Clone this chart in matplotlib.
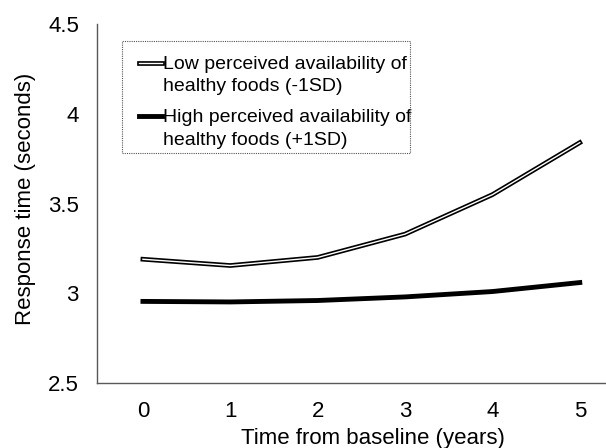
import matplotlib
matplotlib.use("Agg")
import matplotlib.pyplot as plt
import matplotlib.patheffects as pe
import numpy as np
from matplotlib.legend_handler import HandlerLine2D
from matplotlib.patches import Rectangle

years = [0, 1, 2, 3, 4, 5]
low_avail = [3.19, 3.155, 3.20, 3.33, 3.55, 3.84]
high_avail = [2.955, 2.952, 2.96, 2.98, 3.01, 3.06]
y_ticks = [2.5, 3, 3.5, 4, 4.5]
y_tick_labels = ["2.5", "3", "3.5", "4", "4.5"]
label_low = "Low perceived availability of\nhealthy foods (-1SD)"
label_high = "High perceived availability of\nhealthy foods (+1SD)"

plt.rcParams['font.family'] = ['Liberation Sans', 'DejaVu Sans']


class TopHandler(HandlerLine2D):
    """Line handle aligned with the first line of a two-line label."""
    def __init__(self, shift_up=9.0, skip_frac=0.3, **kw):
        super().__init__(**kw)
        self.shift_up = shift_up
        self.skip_frac = skip_frac

    def create_artists(self, legend, orig_handle, xdescent, ydescent,
                       width, height, fontsize, trans):
        arts = super().create_artists(legend, orig_handle, xdescent, ydescent,
                                      width, height, fontsize, trans)
        for a in arts:
            xd = np.asarray(a.get_xdata(), dtype=float)
            yd = np.asarray(a.get_ydata(), dtype=float)
            if len(xd) >= 2:
                x0 = xd[0] + self.skip_frac * (xd[-1] - xd[0])
                a.set_xdata(np.linspace(x0, xd[-1], len(xd)))
            a.set_ydata(yd + self.shift_up)
        return arts


fig = plt.figure(figsize=(6.06, 4.48), dpi=100)
ax = fig.add_axes([0.16, 0.145, 0.84, 0.801])

l1, = ax.plot(years, low_avail, color='white', lw=1.0,
              path_effects=[pe.Stroke(linewidth=3.4, foreground='black'), pe.Normal()],
              label=label_low)
l2, = ax.plot(years, high_avail, color='black', lw=3.5, label=label_high)

ax.set_ylim(2.5, 4.5)
ax.set_xlim(-0.526, 5.30)
ax.set_yticks(y_ticks)
ax.set_yticklabels(y_tick_labels)
ax.set_xticks(years)
ax.tick_params(axis='y', length=0, labelsize=16, pad=13)
ax.tick_params(axis='x', length=0, labelsize=16, pad=13)
for s in ['top', 'right']:
    ax.spines[s].set_visible(False)
for s in ['left', 'bottom']:
    ax.spines[s].set_color('#595959')
    ax.spines[s].set_linewidth(1.0)

ax.set_ylabel("Response time (seconds)", fontsize=16, labelpad=9, y=0.512)
ax.set_xlabel("Time from baseline (years)", fontsize=16, labelpad=4, x=0.543)

# dotted legend frame (text slightly overflows it, as in the original)
frame = Rectangle((122 / 606, 1 - 153 / 448), 288 / 606, 112 / 448,
                  transform=fig.transFigure, fill=False, edgecolor='#555555',
                  linewidth=0.8, linestyle=(0, (1, 1)), zorder=5)
fig.patches.append(frame)

h = TopHandler(shift_up=9.0, skip_frac=0.3)
leg = ax.legend(handles=[l1, l2], loc='upper left',
                bbox_to_anchor=(120 / 606, 1 - 46 / 448),
                bbox_transform=fig.transFigure,
                fontsize=14, handlelength=1.65, handletextpad=0.05,
                labelspacing=0.7, borderpad=0.5, borderaxespad=0,
                frameon=False, handler_map={l1: h, l2: h})
for t in leg.get_texts():
    t.set_linespacing(1.44)

fig.savefig("out.png", dpi=100)
